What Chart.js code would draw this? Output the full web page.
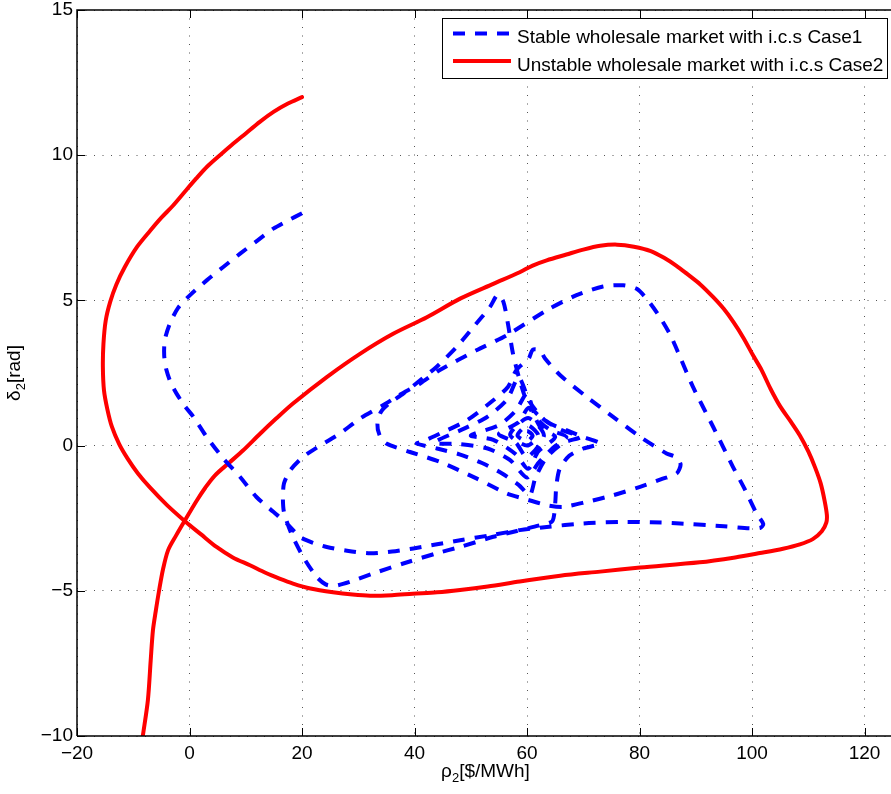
<!DOCTYPE html>
<html>
<head>
<meta charset="utf-8">
<script src="https://cdn.jsdelivr.net/npm/chart.js@4.4.1/dist/chart.umd.min.js"></script>
<style>
  html, body { margin: 0; padding: 0; background: #ffffff; }
  #wrap { width: 891px; height: 794px; }
</style>
</head>
<body>
<div id="wrap"><canvas id="phase" width="891" height="794"></canvas></div>
<script>
// Phase trajectory, stable case (price rho_2 vs angle delta_2)
const stableRho = [
  20, 17.5, 14.9, 12, 9, 6, 3.05, 0.1, -2.0, -3.5, -4.4, -4.5, -4.1, -3.3, -2.3, -0.8, 0.7, 3.05, 6.0, 9.0, 11.9, 14.9, 17.3, 19.6,
  22, 24.4, 28, 32.1, 36, 39.8, 44, 48.1, 54, 58.7, 63.5, 70, 76.5, 82, 87.2, 95, 99.5, 101.5, 102, 100.8, 98.7, 96.6, 93.1,
  89.5, 87.2, 85.5, 83.6, 81.5, 79.5, 77.1, 73.5, 68.8, 63.5, 56.4, 51.0, 44.5, 41.0, 37.4, 34.4, 30.3, 26.7, 23.2, 20.2, 17.9,
  16.8, 16.6, 16.8, 18.1, 20.2, 22.6, 24.2, 25.8, 28.5, 32.7, 38, 43.9, 48.1, 54, 58, 62.3, 64.5, 65, 65.2, 65.8, 67.5, 70, 73,
  70, 67, 64.1, 61.7, 59.9, 58.7, 57.5, 56.6, 55.8, 54.8, 53.4, 50.5, 47.5, 43.9, 41, 38, 35.5, 34, 33.4, 33.8, 35, 39.2, 44.5,
  51, 56.4, 59.3, 63.5, 66.4, 70.6, 75.3, 80.1, 84, 86.6, 87.3, 86.5, 84.8, 80.1, 75.3, 70.6, 65.9, 63.2, 62.3, 61, 60.3, 58.1,
  56.6, 54, 49.3, 44.5, 41.5, 40.4,
  44, 48, 52, 55.5, 58.5, 60.5, 61.5, 63.5, 66.5, 69.5, 66, 63, 60.5, 58.5, 56.5, 53, 49, 43.5, 48, 53, 57, 60, 62, 64.5, 67,
  64, 61.5, 60, 58, 55, 50, 54, 58, 60.2, 62, 65, 62.5, 60.3, 58.5, 55, 58, 60, 63, 60.2, 57, 60, 62, 60.1, 58.3, 60, 61, 60,
  59.3, 60
];
const stableDelta = [
  8.0, 7.75, 7.47, 7.05, 6.61, 6.15, 5.69, 5.18, 4.75, 4.2, 3.63, 3.1, 2.6, 2.15, 1.79, 1.35, 0.99, 0.3, -0.44, -1.08, -1.77,
  -2.28, -2.68, -3.14, -3.35, -3.49, -3.62, -3.71, -3.65, -3.54, -3.4, -3.26, -3.07, -2.91, -2.8, -2.68, -2.63, -2.64, -2.68,
  -2.78, -2.85, -2.83, -2.7, -2.34, -1.5, -0.73, 0.64, 2.02, 3.05, 3.8, 4.43, 5.0, 5.4, 5.52, 5.48, 5.18, 4.66, 3.8, 3.28,
  2.6, 2.14, 1.75, 1.39, 0.93, 0.41, 0.0, -0.39, -0.85, -1.3, -1.8, -2.3, -3.03, -3.83, -4.52, -4.78, -4.83, -4.69, -4.4,
  -4.06, -3.71, -3.49, -3.14, -2.95, -2.74, -2.6, -2.0, -1.4, -0.8, -0.35, -0.1, 0.07,
  0.3, 0.53, 0.76, 1.1, 1.56, 2.25, 3.17, 4.2, 4.95, 5.2, 4.77, 4.09, 3.4, 2.71, 2.25, 1.79, 1.45, 1.15, 0.75, 0.35, 0.07,
  -0.22, -0.56, -1.13, -1.65, -1.82, -2.05, -2.11, -1.94, -1.71, -1.42, -1.15, -0.96, -0.65, -0.4, -0.27, 0.3, 0.99, 1.68,
  2.42, 3.0, 3.28, 3.3, 3.0, 2.6, 2.02, 1.56, 0.87, 0.41, 0.15, 0.07,
  -0.1, -0.3, -0.6, -0.95, -1.35, -1.7, -1.1, -0.4, 0.1, 0.3, 0.55, 0.9, 1.5, 2.35, 1.6, 1.0, 0.6, 0.1, 0.05, -0.1, -0.5,
  -1.1, -0.6, -0.1, 0.3, 0.55, 1.0, 1.8, 1.2, 0.7, 0.35, 0.2, -0.3, -0.8, -0.2, 0.3, 0.6, 1.3, 0.8, 0.4, 0.1, -0.4, 0.35,
  0.95, 0.38, 0.0, 0.35, 0.7, 0.35, 0.15, 0.35, 0.5, 0.35, 0.3
];

// Phase trajectory, unstable case
const unstableRho = [
  20, 17.5, 15, 12.5, 10, 7.5, 5.4, 3.2, 1.2, -0.8, -3, -5, -7, -9.3, -11.5, -13, -14.1, -14.9, -15.3, -15.4, -15.2, -14.6,
  -13.8, -12.5, -11, -9.2, -7.0, -4, -0.6, 2, 4.8, 7.7, 10.75, 13.5, 16, 18.4, 21.5, 25.5, 29, 32.1, 36, 39.7, 44, 48.1, 53,
  58.7, 65.9, 73, 80.1, 90.7, 97, 101.4, 105.5, 108.5, 110.8, 112.4, 113.2, 113.3, 112.9, 112.2, 111.2, 110, 108.5, 106.8,
  105, 103.3, 101.7, 100.2, 98.5, 96.7, 95, 93.1, 90.8, 88.4, 86.5, 84.5, 82, 79, 76, 73, 70, 67, 63.5, 61, 58.7, 54, 48.1,
  42.2, 36.2, 30.3, 24.4, 18.4, 15.4, 12.5, 9.5, 7, 4.5, 2.8, 1.3, -0.8, -2.4, -3.8, -4.7, -5.4, -6.0, -6.5, -6.9, -7.4, -8.3
];
const unstableDelta = [
  12.0, 11.78, 11.5, 11.15, 10.75, 10.35, 10.0, 9.62, 9.2, 8.75, 8.25, 7.85, 7.4, 6.85, 6.15, 5.55, 4.95, 4.3, 3.5, 2.7, 1.9,
  1.25, 0.65, 0.05, -0.45, -0.95, -1.45, -2.05, -2.64, -3.05, -3.49, -3.85, -4.12, -4.38, -4.58, -4.75, -4.92, -5.05, -5.13,
  -5.17, -5.15, -5.1, -5.05, -4.97, -4.85, -4.68, -4.48, -4.34, -4.2, -4.02, -3.85, -3.7, -3.55, -3.4, -3.22, -2.95, -2.65,
  -2.39, -1.9, -1.3, -0.75, -0.2, 0.35, 0.85, 1.35, 1.95, 2.6, 3.1, 3.7, 4.25, 4.7, 5.11, 5.55, 5.92, 6.2, 6.45, 6.7, 6.85,
  6.92, 6.88, 6.75, 6.58, 6.38, 6.2, 5.97, 5.57, 5.06, 4.42, 3.85, 3.16, 2.36, 1.45, 0.93, 0.4, -0.17, -0.6, -1.03, -1.45,
  -1.89, -2.57, -3.1, -3.6, -4.25, -4.98, -5.7, -6.36, -7.4, -8.77, -10
];

const rhoTicks = [-20, 0, 20, 40, 60, 80, 100, 120];
const deltaTicks = [-10, -5, 0, 5, 10, 15];
const seriesNames = [
  'Stable wholesale market with i.c.s Case1',
  'Unstable wholesale market with i.c.s Case2'
];

const FONT = "'Liberation Sans', Arial, Helvetica, sans-serif";
const toPoints = (xs, ys) => xs.map((v, i) => ({ x: v, y: ys[i] }));
const minusSign = v => String(v).replace('-', '\u2212');

// Measures and draws a label made of normal and subscript runs on one baseline.
function runsWidth(ctx, runs, size, subSize) {
  let w = 0;
  runs.forEach(r => {
    ctx.font = (r.sub ? subSize : size) + 'px ' + FONT;
    w += ctx.measureText(r.t).width;
  });
  return w;
}
function drawRuns(ctx, runs, x, y, size, subSize, subDrop) {
  ctx.textAlign = 'left';
  ctx.textBaseline = 'alphabetic';
  runs.forEach(r => {
    ctx.font = (r.sub ? subSize : size) + 'px ' + FONT;
    ctx.fillText(r.t, x, r.sub ? y + subDrop : y);
    x += ctx.measureText(r.t).width;
  });
}

const axesFrame = {
  id: 'axesFrame',
  afterDatasetsDraw(chart) {
    const { ctx, chartArea: a, scales: { x, y } } = chart;
    ctx.save();
    // axes box (right edge lies outside the canvas)
    ctx.strokeStyle = '#000';
    ctx.lineWidth = 1.5;
    ctx.beginPath();
    ctx.moveTo(a.left, a.bottom); ctx.lineTo(a.left, a.top); ctx.lineTo(a.right, a.top);
    ctx.moveTo(a.left, a.bottom); ctx.lineTo(a.right, a.bottom);
    ctx.stroke();
    // inward major ticks
    const len = 8;
    ctx.lineWidth = 1;
    ctx.beginPath();
    x.ticks.forEach(t => {
      const px = Math.round(x.getPixelForValue(t.value)) + 0.5;
      ctx.moveTo(px, a.bottom); ctx.lineTo(px, a.bottom - len);
      ctx.moveTo(px, a.top); ctx.lineTo(px, a.top + len);
    });
    y.ticks.forEach(t => {
      const py = Math.round(y.getPixelForValue(t.value)) + 0.5;
      ctx.moveTo(a.left, py); ctx.lineTo(a.left + len, py);
    });
    ctx.stroke();

    // axis titles with subscripts
    ctx.fillStyle = '#000';
    const xRuns = [{ t: '\u03C1' }, { t: '2', sub: true }, { t: '[$/MWh]' }];
    const xw = runsWidth(ctx, xRuns, 19, 13);
    drawRuns(ctx, xRuns, 485.5 - xw / 2, 777, 19, 13, 5);

    const yRuns = [{ t: '\u03B4' }, { t: '2', sub: true }, { t: '[rad]' }];
    const yw = runsWidth(ctx, yRuns, 19, 13);
    ctx.save();
    ctx.translate(20, 373);
    ctx.rotate(-Math.PI / 2);
    drawRuns(ctx, yRuns, -yw / 2, 0, 19, 13, 5);
    ctx.restore();

    // legend
    const box = { x: 442.5, y: 18.5, w: 445, h: 60 };
    ctx.fillStyle = '#fff';
    ctx.fillRect(box.x, box.y, box.w, box.h);
    ctx.strokeStyle = '#000';
    ctx.lineWidth = 1;
    ctx.strokeRect(box.x, box.y, box.w, box.h);
    const rows = [33.5, 61];
    chart.data.datasets.forEach((ds, i) => {
      const ry = rows[i];
      ctx.save();
      ctx.strokeStyle = ds.borderColor;
      ctx.lineWidth = ds.borderWidth;
      ctx.lineCap = 'butt';
      ctx.setLineDash(ds.borderDash || []);
      ctx.beginPath();
      ctx.moveTo(453, ry); ctx.lineTo(511, ry);
      ctx.stroke();
      ctx.restore();
      ctx.fillStyle = '#000';
      ctx.font = '19px ' + FONT;
      ctx.textAlign = 'left';
      ctx.textBaseline = 'alphabetic';
      ctx.fillText(ds.label, 517, ry + 9.5);
    });
    ctx.restore();
  }
};

new Chart(document.getElementById('phase'), {
  type: 'scatter',
  data: {
    datasets: [
      {
        label: seriesNames[0],
        data: toPoints(stableRho, stableDelta),
        showLine: true,
        borderColor: '#0000ff',
        backgroundColor: '#0000ff',
        borderWidth: 4,
        borderDash: [12, 10],
        borderCapStyle: 'butt',
        borderJoinStyle: 'round',
        tension: 0.25,
        pointRadius: 0,
        pointHoverRadius: 0
      },
      {
        label: seriesNames[1],
        data: toPoints(unstableRho, unstableDelta),
        showLine: true,
        borderColor: '#ff0000',
        backgroundColor: '#ff0000',
        borderWidth: 4,
        borderCapStyle: 'round',
        borderJoinStyle: 'round',
        tension: 0.3,
        pointRadius: 0,
        pointHoverRadius: 0
      }
    ]
  },
  options: {
    responsive: false,
    animation: false,
    devicePixelRatio: 1,
    events: [],
    layout: { padding: { top: 10, right: 0, bottom: 0, left: 0 } },
    plugins: { legend: { display: false }, tooltip: { enabled: false } },
    scales: {
      x: {
        type: 'linear',
        min: -20,
        max: 124.7,
        afterBuildTicks: s => { s.ticks = rhoTicks.map(v => ({ value: v })); },
        afterFit: s => { s.height = 58; s.paddingLeft = 0; s.paddingRight = 0; },
        ticks: {
          color: '#000',
          font: { family: FONT, size: 19 },
          padding: 6,
          maxRotation: 0,
          autoSkip: false,
          callback: v => minusSign(v)
        },
        grid: { color: '#555', lineWidth: 1, drawTicks: false },
        border: { display: false, dash: [1, 7.5] }
      },
      y: {
        type: 'linear',
        min: -10,
        max: 15,
        afterBuildTicks: s => { s.ticks = deltaTicks.map(v => ({ value: v })); },
        afterFit: s => { s.width = 77; s.paddingTop = 0; s.paddingBottom = 0; },
        ticks: {
          color: '#000',
          font: { family: FONT, size: 19 },
          padding: 4,
          autoSkip: false,
          callback: v => minusSign(v)
        },
        grid: { color: '#555', lineWidth: 1, drawTicks: false },
        border: { display: false, dash: [1, 7.5] }
      }
    }
  },
  plugins: [axesFrame]
});
</script>
</body>
</html>
